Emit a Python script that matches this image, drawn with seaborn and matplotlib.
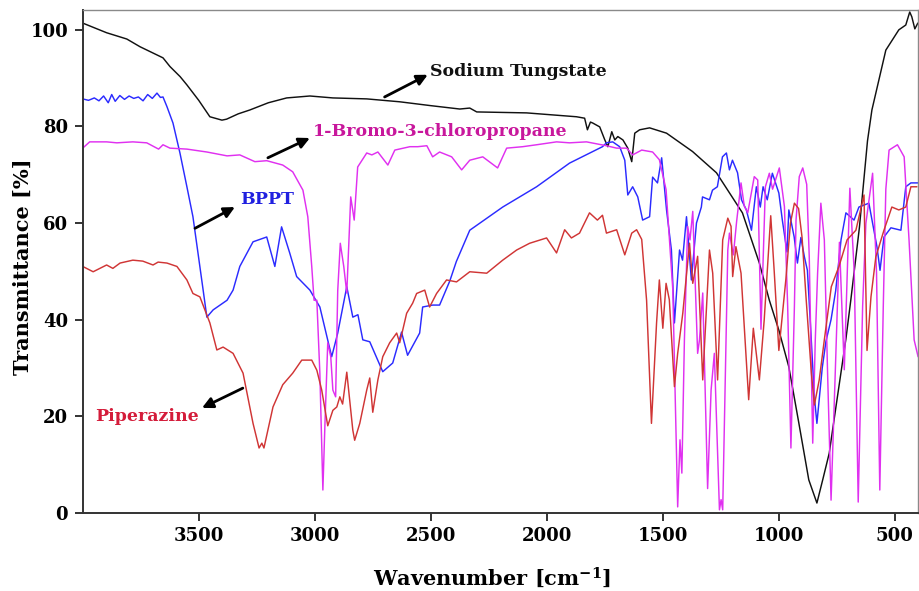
import matplotlib
matplotlib.use("Agg")
import matplotlib.pyplot as plt
import seaborn as sns

# ---------------- data ----------------
tungstate_wn = [4000, 3897, 3810, 3753, 3654, 3624, 3580, 3551, 3500, 3452, 3400, 3380, 3330, 3280,
                3200, 3121, 3021, 2922, 2776, 2634, 2500, 2375, 2332, 2302, 2087, 1872, 1837, 1825,
                1812, 1802, 1772, 1750, 1737, 1720, 1707, 1694, 1672, 1651, 1634, 1621, 1600, 1557,
                1484, 1372, 1269, 1157, 1084, 1041, 1000, 957, 914, 871, 836, 810, 783, 754, 711,
                690, 653, 618, 599, 539, 483, 453, 436, 427, 414, 401]
tungstate_t = [101.4, 99.4, 98.1, 96.5, 94.2, 92.4, 90.3, 88.6, 85.4, 82.0, 81.3, 81.5, 82.6, 83.4,
               84.9, 85.9, 86.3, 85.9, 85.7, 85.1, 84.3, 83.6, 83.8, 83.0, 82.8, 82.0, 81.7, 79.3,
               80.9, 80.7, 79.9, 77.2, 75.8, 78.9, 77.2, 77.9, 77.2, 75.5, 72.7, 78.6, 79.3, 79.7,
               78.6, 74.8, 70.4, 62.1, 51.7, 44.0, 37.8, 30.2, 18.6, 6.8, 2.0, 7.0, 12.3, 21.9, 36.0,
               44.0, 59.0, 77.0, 83.4, 95.8, 100.0, 101.0, 103.7, 102.7, 100.2, 101.4]

bppt_wn = [4000, 3975, 3950, 3930, 3910, 3890, 3875, 3860, 3840, 3820, 3800, 3780, 3760, 3740, 3720,
           3700, 3680, 3665, 3654, 3637, 3611, 3581, 3551, 3525, 3495, 3481, 3465, 3438, 3378, 3352,
           3323, 3266, 3207, 3172, 3143, 3108, 3078, 3021, 2978, 2927, 2901, 2862, 2836, 2814, 2793,
           2763, 2707, 2664, 2626, 2600, 2548, 2535, 2492, 2462, 2418, 2390, 2332, 2190, 2044, 1902,
           1760, 1743, 1716, 1686, 1664, 1651, 1630, 1608, 1587, 1557, 1544, 1523, 1505, 1484, 1463,
           1450, 1428, 1415, 1398, 1377, 1355, 1334, 1329, 1299, 1286, 1265, 1243, 1226, 1213, 1200,
           1178, 1161, 1140, 1118, 1097, 1080, 1068, 1050, 1028, 1000, 985, 965, 957, 934, 920, 905,
           890, 877, 865, 847, 836, 825, 813, 797, 775, 755, 732, 711, 676, 655, 612, 577, 564, 547,
           517, 474, 453, 431, 401]
bppt_t = [85.7, 85.4, 85.9, 85.3, 86.3, 84.9, 86.6, 85.2, 86.4, 85.6, 86.3, 85.8, 86.1, 85.3, 86.6,
          85.8, 86.9, 86.0, 86.1, 84.1, 80.7, 74.5, 67.5, 61.3, 51.0, 46.1, 40.5, 42.0, 44.0, 46.1,
          51.0, 56.1, 57.1, 51.0, 59.2, 53.8, 48.9, 46.1, 42.6, 32.3, 37.2, 46.8, 40.5, 41.0, 35.8,
          35.4, 29.2, 31.0, 37.4, 32.6, 37.2, 42.6, 43.0, 43.0, 48.0, 52.0, 58.5, 63.3, 67.5, 72.4,
          75.8, 76.6, 76.8, 75.8, 73.0, 65.8, 67.5, 65.4, 60.6, 61.3, 69.5, 68.3, 73.5, 62.7, 54.4,
          39.3, 54.4, 52.3, 61.3, 48.2, 60.0, 63.3, 65.4, 64.8, 66.8, 67.5, 73.7, 74.5, 71.0, 73.0,
          70.4, 64.8, 62.7, 58.5, 67.5, 63.3, 67.5, 64.8, 70.3, 66.2, 60.6, 54.0, 62.7, 57.1, 51.7, 57.0,
          53.0, 50.2, 40.0, 24.0, 18.5, 24.0, 30.0, 35.5, 40.0, 46.0, 56.5, 62.1, 60.6, 63.3, 64.1, 55.0,
          50.2, 57.1, 59.0, 58.5, 67.5, 68.3, 68.3]

bromo_wn = [4000, 3970, 3897, 3853, 3784, 3724, 3673, 3654, 3624, 3551, 3465, 3378, 3323, 3258, 3207,
            3138, 3095, 3051, 3030, 3013, 3003, 2991, 2978, 2965, 2956, 2944, 2931, 2922, 2910, 2901,
            2890, 2875, 2862, 2845, 2830, 2815, 2776, 2754, 2728, 2685, 2655, 2590, 2556, 2517, 2492,
            2462, 2410, 2367, 2332, 2276, 2212, 2173, 2104, 2044, 1958, 1902, 1829, 1743, 1699, 1656,
            1630, 1591, 1544, 1515, 1486, 1457, 1436, 1426, 1418, 1407, 1393, 1383, 1371, 1350, 1342,
            1328, 1307, 1292, 1278, 1256, 1249, 1242, 1220, 1213, 1196, 1182, 1163, 1149, 1134, 1106,
            1091, 1077, 1058, 1041, 1027, 998, 976, 962, 948, 933, 926, 912, 897, 880, 869, 854, 843,
            833, 819, 804, 790, 775, 757, 739, 718, 694, 675, 658, 639, 625, 596, 579, 565, 550, 539,
            525, 489, 460, 439, 417, 400]
bromo_t = [75.5, 76.8, 76.8, 76.6, 76.8, 76.6, 75.3, 76.2, 75.5, 75.3, 74.7, 73.9, 74.1, 72.7, 72.9,
           72.0, 70.6, 66.8, 61.3, 51.0, 44.0, 44.0, 28.9, 4.7, 18.5, 35.2, 32.3, 25.4, 24.0, 46.0,
           55.8, 51.0, 45.5, 65.4, 60.6, 71.6, 74.5, 74.1, 74.7, 72.0, 75.1, 75.8, 75.8, 76.0, 73.7,
           74.7, 73.7, 71.0, 73.0, 73.7, 71.4, 75.5, 75.8, 76.2, 76.8, 76.6, 76.8, 76.0, 75.5, 75.5,
           74.1, 75.1, 74.7, 73.1, 66.9, 46.2, 1.2, 15.1, 8.2, 35.8, 59.3, 56.5, 62.4, 33.0, 35.8,
           45.5, 5.0, 25.4, 33.0, 0.6, 2.7, 0.6, 54.4, 57.9, 53.4, 60.3, 68.3, 63.5, 62.1, 69.6,
           68.9, 38.0, 67.5, 70.3, 67.0, 71.4, 63.4, 42.7, 13.4, 42.7, 60.6, 69.6, 71.4, 68.0, 53.0, 14.4, 35.8,
           49.6, 64.1, 56.5, 28.9, 2.6, 28.9, 56.0, 29.6, 67.2, 49.6, 2.2, 42.7, 59.9, 70.3, 49.6, 4.7, 42.7, 67.0,
           75.1, 76.2, 73.7, 56.5, 35.8, 32.3]

piper_wn = [4000, 3955, 3897, 3870, 3839, 3784, 3741, 3697, 3675, 3637, 3594, 3551, 3525, 3495, 3452,
            3422, 3395, 3352, 3309, 3266, 3240, 3228, 3219, 3180, 3138, 3095, 3056, 3013, 2991, 2970,
            2944, 2922, 2905, 2892, 2880, 2862, 2836, 2828, 2806, 2776, 2763, 2750, 2728, 2707, 2677,
            2647, 2634, 2621, 2604, 2578, 2561, 2526, 2505, 2475, 2432, 2389, 2332, 2259, 2190, 2130,
            2074, 2001, 1958, 1923, 1894, 1859, 1816, 1782, 1760, 1743, 1699, 1664, 1634, 1613, 1591,
            1570, 1549, 1527, 1515, 1500, 1486, 1472, 1450, 1436, 1414, 1385, 1371, 1350, 1328, 1299,
            1285, 1264, 1242, 1220, 1206, 1199, 1185, 1163, 1130, 1110, 1084, 1063, 1035, 1020, 1000,
            970, 950, 933, 915, 900, 882, 860, 847, 826, 804, 774, 741, 706, 668, 633, 620, 603, 582,
            547, 513, 483, 453, 431, 405]
piper_t = [51.0, 49.9, 51.3, 50.6, 51.7, 52.3, 52.1, 51.3, 51.9, 51.7, 51.0, 48.2, 45.4, 44.7, 39.3,
           33.7, 34.3, 33.0, 28.9, 18.5, 13.4, 14.4, 13.4, 21.9, 26.5, 28.9, 31.6, 31.6, 29.5, 25.4,
           18.0, 21.2, 21.9, 24.0, 22.5, 29.1, 17.1, 15.0, 18.5, 25.4, 27.9, 20.8, 27.5, 32.3, 35.2,
           37.2, 35.2, 37.8, 41.3, 43.4, 45.4, 46.1, 42.6, 45.4, 48.2, 47.8, 49.9, 49.6, 52.3, 54.4,
           55.8, 56.9, 53.8, 58.6, 56.9, 57.9, 62.1, 60.6, 61.6, 57.9, 58.6, 53.4, 57.9, 58.6, 56.6,
           44.0, 18.5, 39.3, 48.2, 38.2, 47.5, 44.1, 26.1, 33.0, 41.3, 55.8, 47.5, 53.1, 27.5, 54.4,
           49.6, 27.5, 56.5, 61.0, 59.3, 48.9, 55.1, 49.6, 23.4, 38.2, 27.5, 40.0, 61.5, 50.0, 33.6,
           48.2, 60.0, 64.1, 63.0, 57.0, 44.0, 29.0, 22.3, 27.5, 35.8, 46.8, 51.0, 56.5, 58.5, 65.8, 33.6, 44.7, 53.0,
           58.5, 63.3, 62.7, 63.3, 67.5, 67.5]

x_ticks = [3500, 3000, 2500, 2000, 1500, 1000, 500]
y_ticks = [0, 20, 40, 60, 80, 100]
x_label = "Wavenumber [cm$^{\\mathbf{-1}}$]"
y_label = "Transmittance [%]"

# ---------------- style ----------------
sns.set_theme(style="white")
plt.rcParams["font.family"] = ["DejaVu Serif"]
plt.rcParams["font.weight"] = "bold"
plt.rcParams["mathtext.fontset"] = "dejavuserif"
plt.rcParams["text.color"] = "black"
plt.rcParams["axes.labelcolor"] = "black"

fig = plt.figure(figsize=(9.19, 5.91), dpi=100)
ax = fig.add_axes([0.09, 0.1325, 0.909, 0.8505])

lw = 1.05
sns.lineplot(x=tungstate_wn, y=tungstate_t, ax=ax, color="#111111", lw=lw, sort=False, estimator=None)
sns.lineplot(x=bppt_wn, y=bppt_t, ax=ax, color="#2b2bff", lw=lw, sort=False, estimator=None)
sns.lineplot(x=bromo_wn, y=bromo_t, ax=ax, color="#e030f0", lw=lw, sort=False, estimator=None)
sns.lineplot(x=piper_wn, y=piper_t, ax=ax, color="#d03535", lw=lw, sort=False, estimator=None)

ax.set_xlim(4000, 400)
ax.set_ylim(0, 104.1)
ax.set_xticks(x_ticks)
ax.set_yticks(y_ticks)
ax.tick_params(axis="both", direction="out", length=5.5, width=1.4, color="#333333",
               labelsize=13, labelcolor="black", pad=5, bottom=True, left=True)
for lab in ax.get_xticklabels() + ax.get_yticklabels():
    lab.set_fontweight("bold")

for s in ["left", "bottom"]:
    ax.spines[s].set_color("#333333")
    ax.spines[s].set_linewidth(1.4)
for s in ["top", "right"]:
    ax.spines[s].set_color("#8a8a8a")
    ax.spines[s].set_linewidth(1.0)

ax.set_xlabel(x_label, fontsize=15, fontweight="bold", color="black")
ax.set_ylabel(y_label, fontsize=15, fontweight="bold", color="black")
ax.xaxis.set_label_coords(0.49, -0.105)
ax.yaxis.set_label_coords(-0.060, 0.49)

# ---------------- annotations ----------------
arrow = dict(arrowstyle="-|>", color="black", lw=2.0, mutation_scale=16, shrinkA=0, shrinkB=0)
ax.annotate("", xy=(2513, 90.7), xytext=(2699, 86.1), arrowprops=arrow)
ax.text(2505, 91.3, "Sodium Tungstate", color="#111111", fontsize=12.5, fontweight="bold",
        ha="left", va="center")

ax.annotate("", xy=(3021, 77.6), xytext=(3202, 73.5), arrowprops=arrow)
ax.text(3009, 79.0, "1-Bromo-3-chloropropane", color="#c8179c", fontsize=12.5, fontweight="bold",
        ha="left", va="center")

ax.annotate("", xy=(3344, 63.3), xytext=(3516, 58.9), arrowprops=arrow)
ax.text(3322, 64.8, "BPPT", color="#2020e0", fontsize=12.5, fontweight="bold",
        ha="left", va="center")

ax.annotate("", xy=(3486, 21.7), xytext=(3310, 25.8), arrowprops=arrow)
ax.text(3499, 19.9, "Piperazine", color="#d41c3a", fontsize=12.5, fontweight="bold",
        ha="right", va="center")

fig.savefig("out.png", dpi=100)
